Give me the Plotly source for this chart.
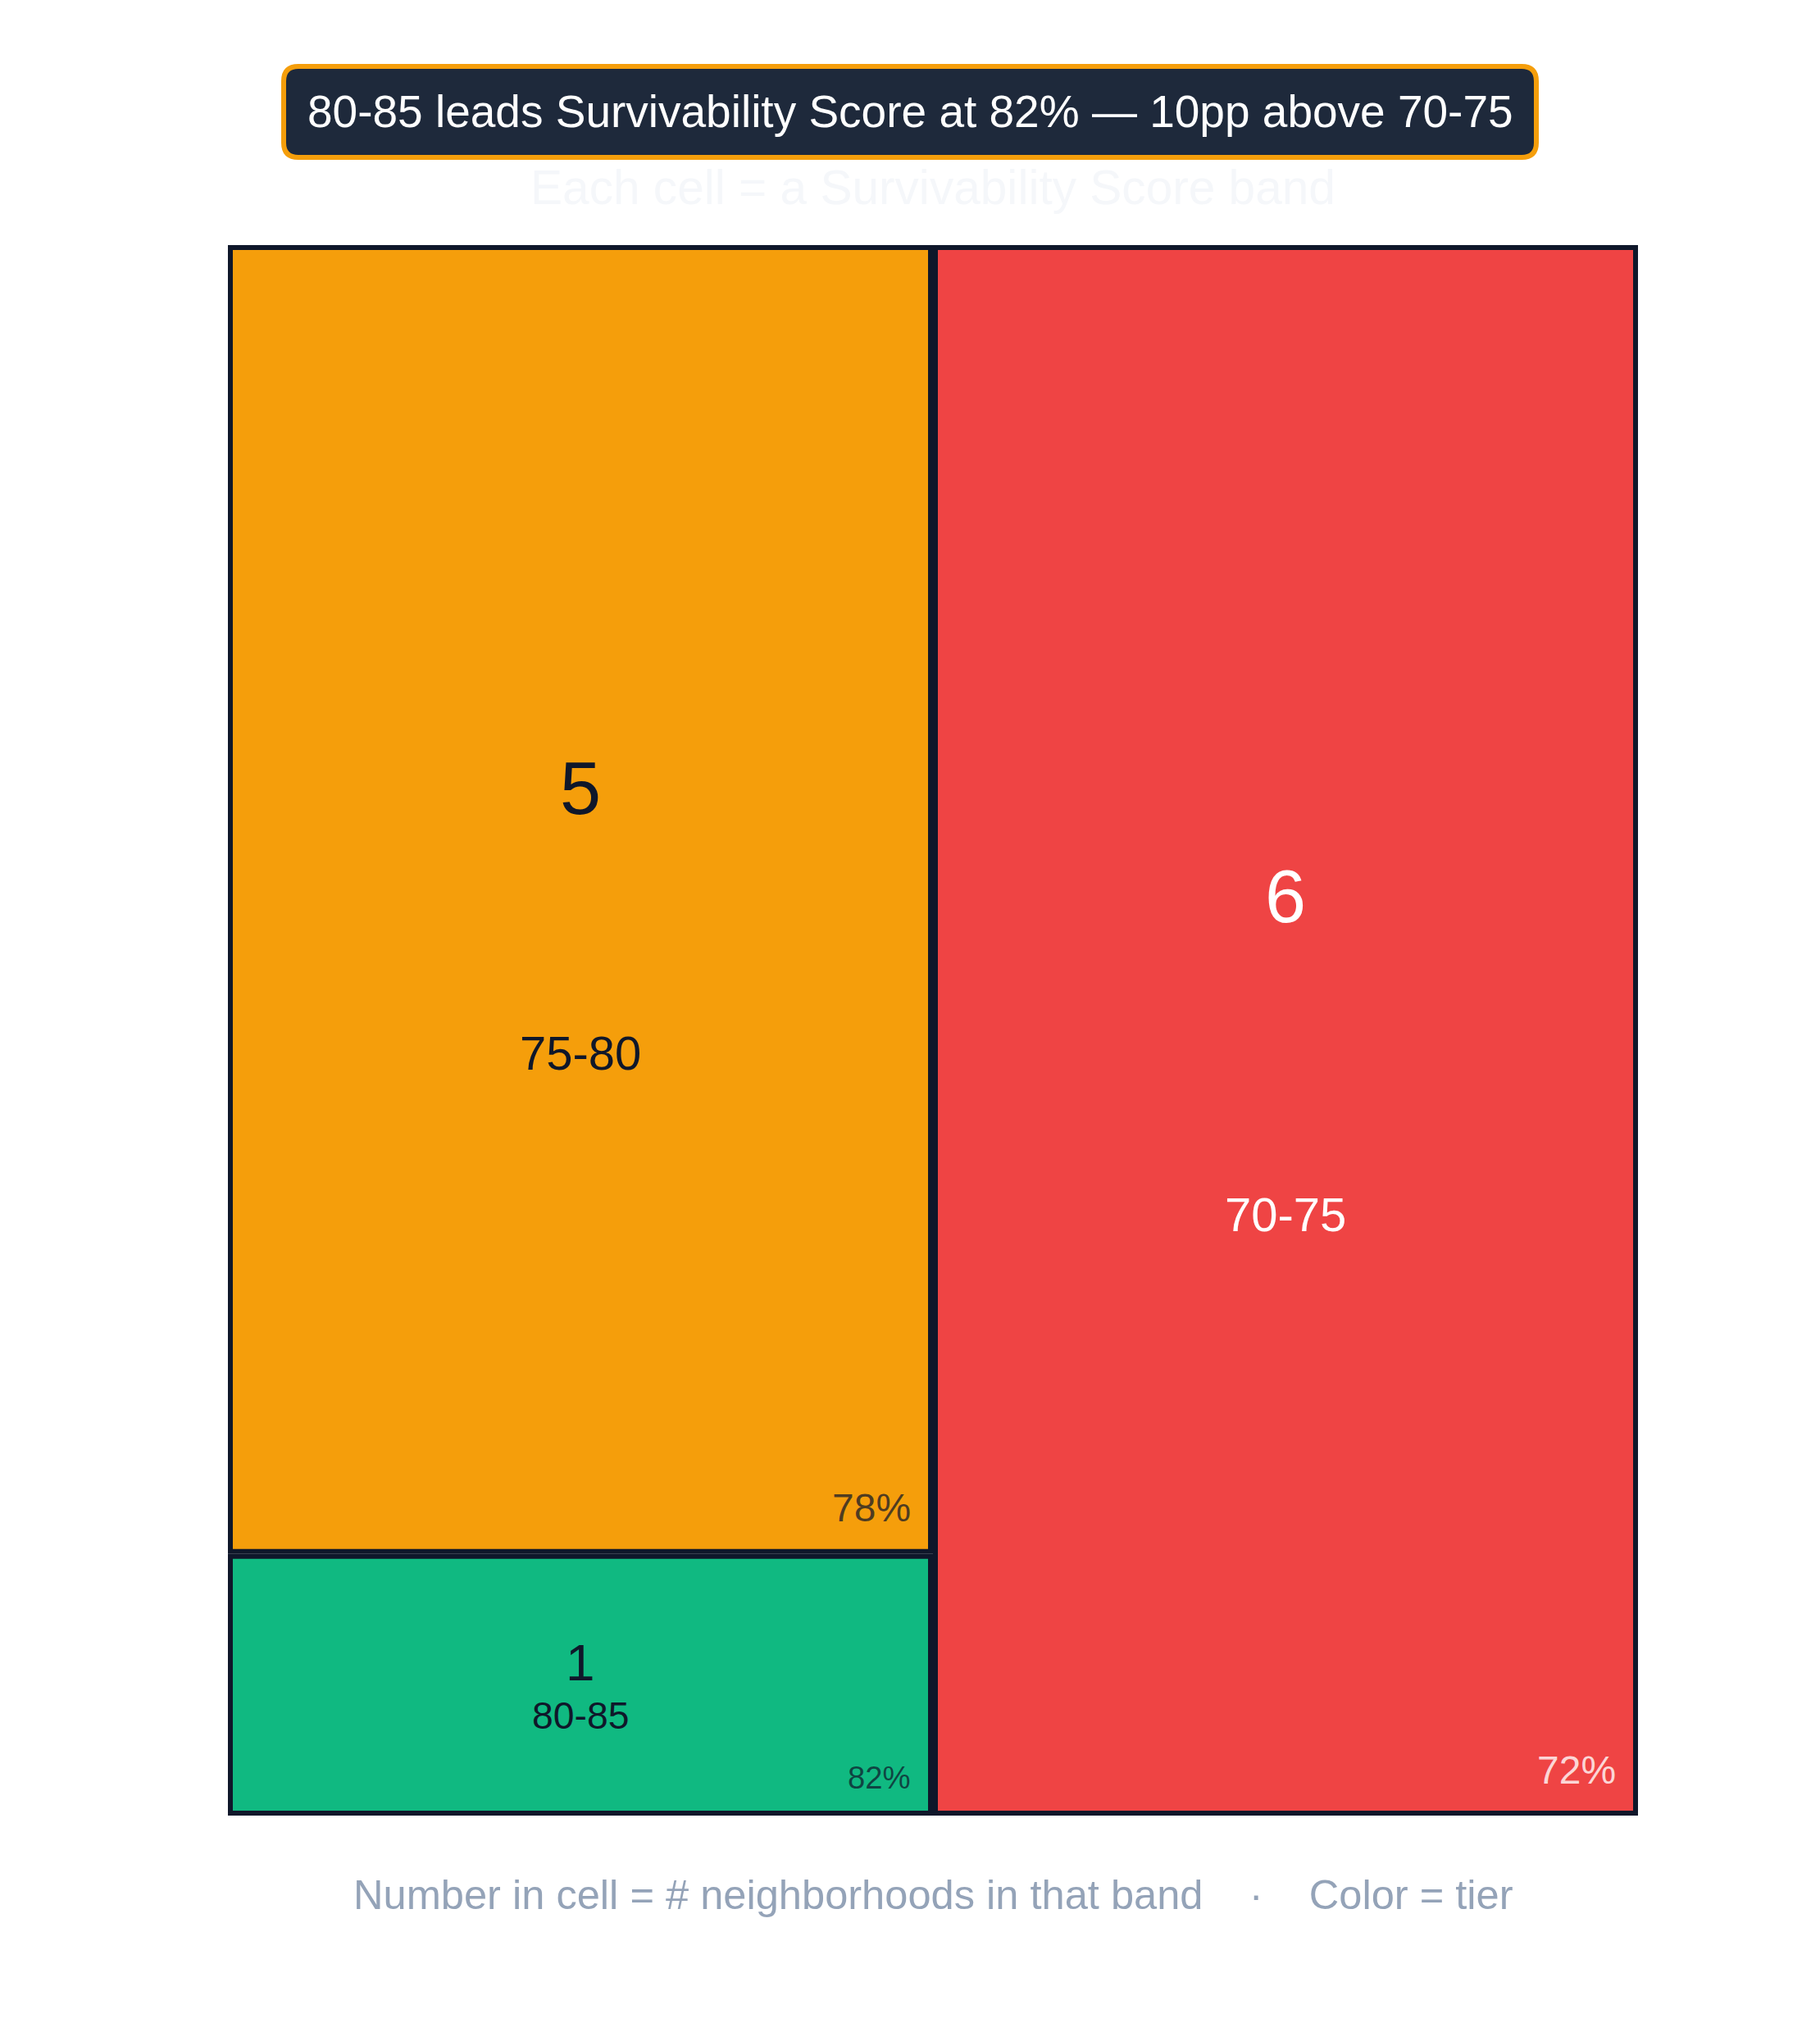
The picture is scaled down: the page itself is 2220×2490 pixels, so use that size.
import plotly.graph_objects as go

# score bands, neighborhood counts, and average survivability score per band
bands = ["75-80", "80-85", "70-75"]
counts = [5, 1, 6]
scores = [78, 82, 72]

tier_colors = ["#f59e0b", "#10b981", "#ef4444"]
text_colors = ["#0f172a", "#0f172a", "#ffffff"]
pct_colors = ["rgba(15,23,42,0.72)", "rgba(15,23,42,0.72)", "rgba(255,255,255,0.8)"]

title_text = "80-85 leads Survivability Score at 82% \u2014 10pp above 70-75"
subtitle_text = "Each cell = a Survivability Score band"
footer_text = ("Number in cell = # neighborhoods in that band"
               "\u00a0\u00a0\u00a0\u00a0\u00b7\u00a0\u00a0\u00a0\u00a0Color = tier")

W, H = 2220, 2490
MARGIN = dict(l=270, r=230, t=291, b=283)
PW = W - MARGIN["l"] - MARGIN["r"]
PH = H - MARGIN["t"] - MARGIN["b"]
FONT = "Liberation Sans, Arial, Helvetica, sans-serif"
DARK = "#0f172a"


def split_cells(idx, x0, y0, x1, y1, vertical=True):
    # cut the box in two groups of about equal total, alternating direction
    if len(idx) == 1:
        return [(idx[0], x0, y0, x1, y1)]
    total = sum(counts[i] for i in idx)
    best, best_diff = 1, None
    for k in range(1, len(idx)):
        run = sum(counts[i] for i in idx[:k])
        diff = abs(total - 2 * run)
        if best_diff is None or diff < best_diff:
            best, best_diff = k, diff
    a, b = idx[:best], idx[best:]
    frac = sum(counts[i] for i in a) / total
    if vertical:
        xm = x0 + (x1 - x0) * frac
        return split_cells(a, x0, y0, xm, y1, False) + split_cells(b, xm, y0, x1, y1, False)
    ym = y1 - (y1 - y0) * frac
    return split_cells(a, x0, ym, x1, y1, True) + split_cells(b, x0, y0, x1, ym, True)


def px_x(px):
    return (px - MARGIN["l"]) / PW


def px_y(py):
    return (H - MARGIN["b"] - py) / PH


def rounded_box(x0, y0, x1, y1, r):
    pts = [
        ("M", x0 + r, y0), ("L", x1 - r, y0), ("Q", x1, y0, x1, y0 + r),
        ("L", x1, y1 - r), ("Q", x1, y1, x1 - r, y1), ("L", x0 + r, y1),
        ("Q", x0, y1, x0, y1 - r), ("L", x0, y0 + r), ("Q", x0, y0, x0 + r, y0),
    ]
    out = ""
    for p in pts:
        coords = p[1:]
        seg = []
        for j in range(0, len(coords), 2):
            seg.append(f"{px_x(coords[j]):.5f},{px_y(coords[j + 1]):.5f}")
        out += p[0] + " " + " ".join(seg) + " "
    return out + "Z"


fig = go.Figure()
fig.add_trace(go.Scatter(x=[0, 1], y=[0, 1], mode="markers", marker={"opacity": 0},
                         hoverinfo="skip", showlegend=False))

shapes = []
annotations = []
inset_x, inset_y = 3 / PW, 3 / PH

for i, x0, y0, x1, y1 in split_cells(list(range(len(bands))), 0, 0, 1, 1):
    shapes.append(dict(type="rect", xref="x", yref="y",
                       x0=x0 + inset_x, x1=x1 - inset_x, y0=y0 + inset_y, y1=y1 - inset_y,
                       fillcolor=tier_colors[i], line={"color": DARK, "width": 6}, layer="above"))
    h_px = (y1 - y0) * PH
    cx = (x0 + x1) / 2
    num_size = min(90, 0.2 * h_px)
    lab_size = min(58, 0.145 * h_px)
    pct_size = min(48, 0.12 * h_px)
    annotations.append(dict(x=cx, y=y1 - 0.415 * (y1 - y0), xref="x", yref="y",
                            text=str(counts[i]), showarrow=False, yanchor="middle",
                            font={"size": num_size, "color": text_colors[i], "family": FONT}))
    annotations.append(dict(x=cx, y=y1 - 0.617 * (y1 - y0), xref="x", yref="y",
                            text=bands[i], showarrow=False, yanchor="middle",
                            font={"size": lab_size, "color": text_colors[i], "family": FONT}))
    annotations.append(dict(x=x1 - inset_x, y=y0 + inset_y, xref="x", yref="y",
                            text=f"{scores[i]}%", showarrow=False,
                            xanchor="right", yanchor="middle", xshift=-22, yshift=pct_size + 5,
                            font={"size": pct_size, "color": pct_colors[i], "family": FONT}))

# title badge
shapes.append(dict(type="path", xref="paper", yref="paper",
                   path=rounded_box(338, 73, 1866, 184, 18),
                   fillcolor="#1e293b", line={"color": "#f59e0b", "width": 6}))
annotations.append(dict(x=px_x(1102), y=px_y(128), xref="paper", yref="paper",
                        text=title_text, showarrow=False, xanchor="center", yanchor="middle",
                        font={"size": 55, "color": "#ffffff", "family": FONT}))
annotations.append(dict(x=0.5, y=px_y(220), xref="paper", yref="paper",
                        text=subtitle_text, showarrow=False, yanchor="middle",
                        font={"size": 58.6, "color": "#f5f7fa", "family": FONT}))
annotations.append(dict(x=0.5, y=px_y(2303), xref="paper", yref="paper",
                        text=footer_text, showarrow=False, yanchor="middle",
                        font={"size": 50.6, "color": "#94a3b8", "family": FONT}))

fig.update_layout(
    width=W, height=H,
    margin=MARGIN,
    paper_bgcolor="#ffffff",
    plot_bgcolor="#ffffff",
    showlegend=False,
    shapes=shapes,
    annotations=annotations,
    xaxis={"visible": False, "range": [0, 1], "fixedrange": True},
    yaxis={"visible": False, "range": [0, 1], "fixedrange": True},
    font={"family": FONT},
)

fig.write_html("out.html")
